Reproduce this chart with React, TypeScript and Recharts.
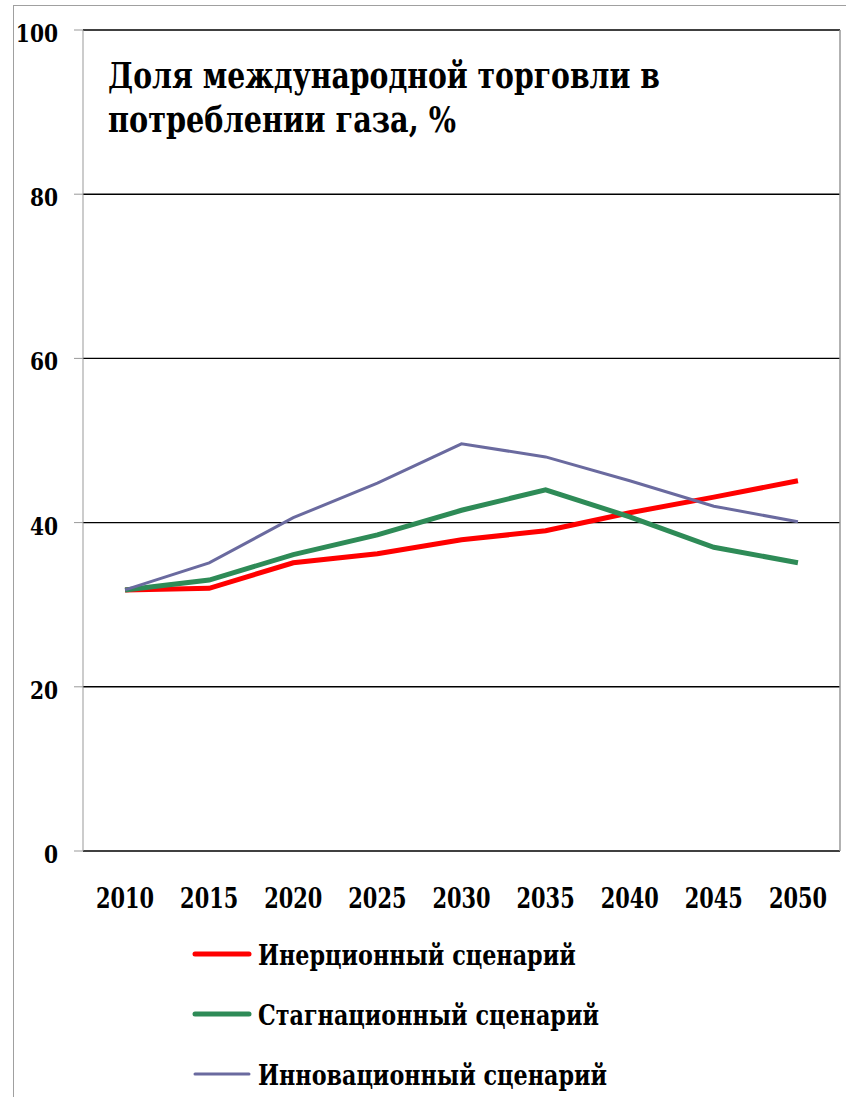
import React from "react";
import { LineChart, Line, XAxis, YAxis, CartesianGrid, ReferenceLine } from "recharts";

const years = ["2010", "2015", "2020", "2025", "2030", "2035", "2040", "2045", "2050"];
const inertial = [31.8, 32.0, 35.1, 36.2, 37.9, 39.0, 41.2, 43.1, 45.1];
const stagnation = [31.8, 33.0, 36.1, 38.5, 41.5, 44.0, 40.7, 37.0, 35.1];
const innovation = [31.8, 35.1, 40.6, 44.8, 49.6, 48.0, 45.1, 42.0, 40.1];
const yTicks = [0, 20, 40, 60, 80, 100];
const titleLines = ["Доля международной торговли в", "потреблении газа, %"];

const seriesList = [
  { key: "inertial", name: "Инерционный сценарий", color: "#ff0000", width: 5 },
  { key: "stagnation", name: "Стагнационный сценарий", color: "#2e8b57", width: 5 },
  { key: "innovation", name: "Инновационный сценарий", color: "#6a6a9f", width: 3 },
];

const data = years.map((y, i) => ({
  x: i + 0.5,
  year: y,
  inertial: inertial[i],
  stagnation: stagnation[i],
  innovation: innovation[i],
}));

const boundaryTicks = years.map((_, i) => i).concat([years.length]);
const centerTicks = years.map((_, i) => i + 0.5);

const FONT = "DejaVu Serif";

const YTick = (props: any) => {
  const { x, y, payload } = props;
  return (
    <text
      transform={`translate(${x},${y + 12}) scale(0.86,1)`}
      textAnchor="end"
      fontFamily={FONT}
      fontWeight="bold"
      fontSize={23.5}
      fill="#000"
    >
      {payload.value}
    </text>
  );
};

const XTick = (props: any) => {
  const { x, y, payload } = props;
  return (
    <text
      transform={`translate(${x},${y + 57}) scale(0.76,1)`}
      textAnchor="middle"
      fontFamily={FONT}
      fontWeight="bold"
      fontSize={27.5}
      fill="#000"
    >
      {years[Math.floor(payload.value)]}
    </text>
  );
};

export default function App() {
  return (
    <div style={{ position: "absolute", left: 0, top: 0, width: 846, height: 1097, overflow: "hidden", background: "#fff" }}>
      <div style={{ position: "absolute", left: 13, top: 5, width: 840, height: 1100, border: "1px solid #a0a0a0" }} />
      <div style={{ position: "absolute", left: 0, top: 0 }}>
        <LineChart width={846} height={1097} data={data} margin={{ top: 30, right: 6, left: 0, bottom: 186 }}>
          <CartesianGrid vertical={false} stroke="#000" strokeWidth={1.4} />
          <XAxis
            xAxisId="marks"
            type="number"
            dataKey="x"
            domain={[0, years.length]}
            ticks={boundaryTicks}
            tick={false}
            height={0}
            tickSize={9}
            axisLine={{ stroke: "#999" }}
            tickLine={{ stroke: "#999" }}
          />
          <XAxis
            xAxisId="labels"
            type="number"
            dataKey="x"
            domain={[0, years.length]}
            ticks={centerTicks}
            axisLine={false}
            tickLine={false}
            tickSize={0}
            tickMargin={0}
            height={60}
            interval={0}
            tick={<XTick />}
          />
          <YAxis
            type="number"
            domain={[0, 100]}
            ticks={yTicks}
            width={83}
            tickSize={9}
            tickMargin={16}
            axisLine={{ stroke: "#999" }}
            tickLine={{ stroke: "#999" }}
            tick={<YTick />}
          />
          <ReferenceLine xAxisId="marks" x={years.length} stroke="#999" strokeWidth={1.5} />
          {seriesList.map((s) => (
            <Line
              key={s.key}
              xAxisId="marks"
              type="linear"
              dataKey={s.key}
              name={s.name}
              stroke={s.color}
              strokeWidth={s.width}
              dot={false}
              activeDot={false}
              isAnimationActive={false}
            />
          ))}
        </LineChart>
      </div>
      <svg width={846} height={1097} style={{ position: "absolute", left: 0, top: 0, pointerEvents: "none" }}>
        <text x={108} y={88} fontFamily={FONT} fontWeight="bold" fontSize={35} fill="#000" textLength={552} lengthAdjust="spacingAndGlyphs">
          {titleLines[0]}
        </text>
        <text x={108} y={132} fontFamily={FONT} fontWeight="bold" fontSize={35} fill="#000" textLength={348} lengthAdjust="spacingAndGlyphs">
          {titleLines[1]}
        </text>
        {seriesList.map((s, i) => (
          <g key={s.key} transform={`translate(0, ${i * 60})`}>
            <line x1={195} x2={249} y1={954} y2={954} stroke={s.color} strokeWidth={s.width} strokeLinecap="round" />
            <text transform="translate(258, 965) scale(0.825,1)" fontFamily={FONT} fontWeight="bold" fontSize={27} fill="#000">
              {s.name}
            </text>
          </g>
        ))}
      </svg>
    </div>
  );
}
